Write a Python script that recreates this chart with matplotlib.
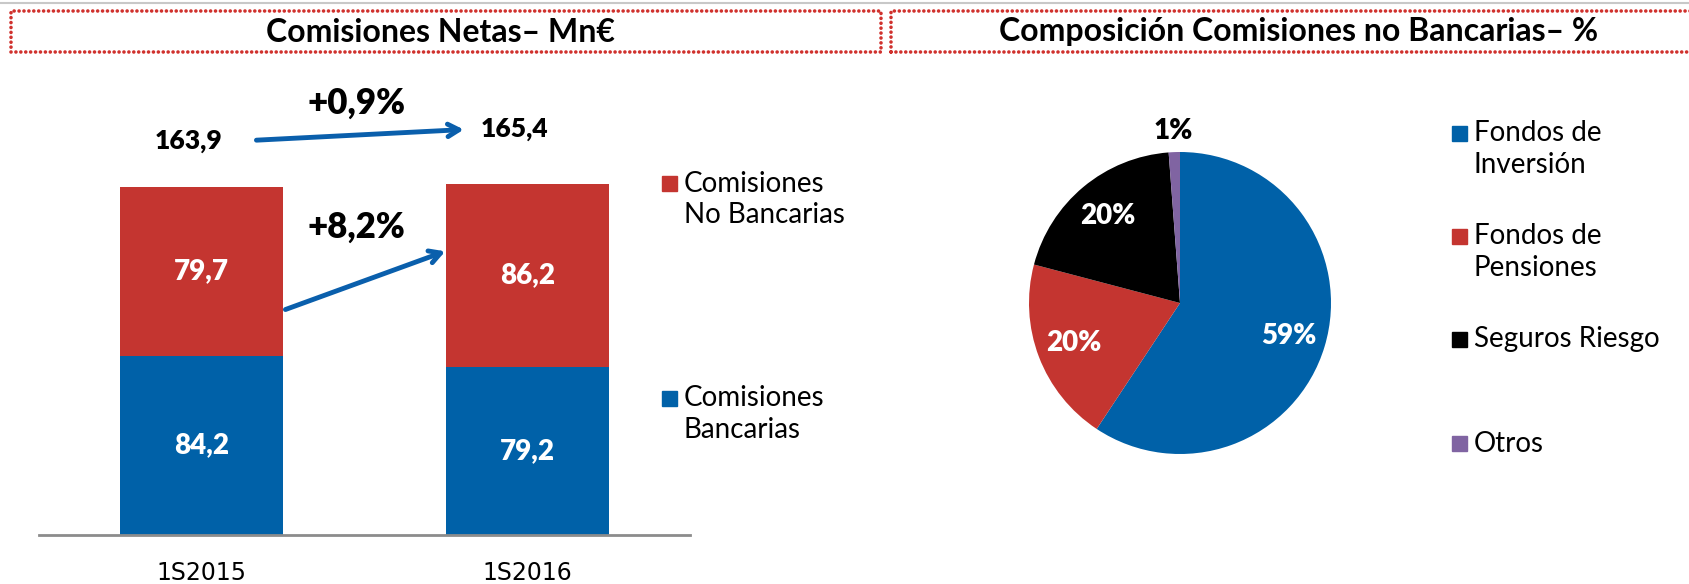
import numpy as np
import matplotlib.pyplot as plt
from matplotlib.patches import Rectangle
from matplotlib.lines import Line2D

# data
periods = ['1S2015', '1S2016']
bancarias = [84.2, 79.2]
no_bancarias = [79.7, 86.2]
totales = [163.9, 165.4]
var_total = '+0,9%'
var_no_banc = '+8,2%'

pie_labels = ['Fondos de\nInversión', 'Fondos de\nPensiones', 'Seguros Riesgo', 'Otros']
pie_shares = [59.3, 19.8, 19.7, 1.2]

BLUE = '#0061a8'
RED = '#c43530'
PURPLE = '#8064a2'
ARROW = '#0a5fac'
FONT = 'Lato'
NUMW = 'heavy'

W, H = 1690, 584
fig = plt.figure(figsize=(W / 100, H / 100), dpi=100)

def fx(px):
    return px / W

def fy(py):
    return 1 - py / H

def legend_item(xsq, yc, label, color):
    # square aligned with the first line, each line placed separately
    fig.add_artist(Rectangle((fx(xsq), fy(yc + 7.5)), fx(15), 15 / H,
                             transform=fig.transFigure, color=color))
    for k, line in enumerate(label.split('\n')):
        fig.text(fx(xsq + 22), fy(yc + 32 * k), line, ha='left', va='center',
                 fontsize=20, family=FONT)

# grey line on top
fig.add_artist(Line2D([0, 1], [fy(2.5), fy(2.5)], color='#c8c8c8', lw=1.5))

# title boxes (dotted red)
for x0, x1, title, xc in [(11, 881, 'Comisiones Netas– Mn€', 440),
                          (891, 1700, 'Composición Comisiones no Bancarias– %', 1299)]:
    rect = Rectangle((fx(x0), fy(52)), fx(x1) - fx(x0), fy(11) - fy(52),
                     transform=fig.transFigure, fill=False, edgecolor='#d0312d',
                     lw=2.6, linestyle=(0, (0.01, 1.35)), capstyle='round')
    fig.add_artist(rect)
    fig.text(fx(xc), fy(32), title, ha='center', va='center', fontsize=23,
             fontweight='bold', family=FONT)

# ---- stacked bars ----
ax = fig.add_axes([fx(39), fy(535), fx(690) - fx(39), fy(110) - fy(535)])
x = np.arange(len(periods))
ax.bar(x, bancarias, width=0.5, color=BLUE)
ax.bar(x, no_bancarias, width=0.5, bottom=bancarias, color=RED)
ax.set_xlim(-0.5, 1.5)
ax.set_ylim(0, 200)
for s in ['top', 'right', 'left']:
    ax.spines[s].set_visible(False)
ax.spines['bottom'].set_color('#8c8c8c')
ax.spines['bottom'].set_linewidth(2)
ax.set_yticks([])
ax.set_xticks(x)
ax.set_xticklabels(periods, fontsize=17, family='DejaVu Sans')
ax.tick_params(axis='x', length=0, pad=19)

for i in range(len(periods)):
    ax.text(x[i], bancarias[i] / 2, f'{bancarias[i]:.1f}'.replace('.', ','),
            ha='center', va='center', color='white', fontsize=20, fontweight=NUMW, family=FONT)
    ax.text(x[i], bancarias[i] + no_bancarias[i] / 2, f'{no_bancarias[i]:.1f}'.replace('.', ','),
            ha='center', va='center', color='white', fontsize=20, fontweight=NUMW, family=FONT)
ax.text(x[0] - 0.04, totales[0] + 21.5, f'{totales[0]:.1f}'.replace('.', ','),
        ha='center', va='center', fontsize=19, fontweight=NUMW, family=FONT)
ax.text(x[1] - 0.04, totales[1] + 25.5, f'{totales[1]:.1f}'.replace('.', ','),
        ha='center', va='center', fontsize=19, fontweight=NUMW, family=FONT)

ax.text(0.474, 203, var_total, ha='center', va='center', fontsize=25, fontweight=NUMW, family=FONT)
ax.text(0.474, 145, var_no_banc, ha='center', va='center', fontsize=25, fontweight=NUMW, family=FONT)

arrow_kw = dict(arrowstyle='->,head_length=0.8,head_width=0.45', color=ARROW, lw=3.5,
                shrinkA=0, shrinkB=0)
ax.annotate('', xy=(0.805, 190.8), xytext=(0.168, 185.8), arrowprops=arrow_kw, annotation_clip=False)
ax.annotate('', xy=(0.748, 133.5), xytext=(0.257, 106.1), arrowprops=arrow_kw, annotation_clip=False)

# left legend
legend_item(662, 183.5, 'Comisiones\nNo Bancarias', RED)
legend_item(662, 398, 'Comisiones\nBancarias', BLUE)

# ---- pie ----
pax = fig.add_axes([fx(1029), fy(454), fx(302), 302 / H])
colors = [BLUE, RED, 'black', PURPLE]
wedges, _ = pax.pie(pie_shares, colors=colors, startangle=90, counterclock=False,
                    radius=1, wedgeprops=dict(linewidth=0))
pax.set_xlim(-1, 1)
pax.set_ylim(-1, 1)
for w, share in zip(wedges, pie_shares):
    ang = np.deg2rad((w.theta1 + w.theta2) / 2)
    if share < 5:
        r, c = 1.14, 'black'
    else:
        r, c = 0.75, 'white'
    pax.text(r * np.cos(ang), r * np.sin(ang), f'{share:.0f}%', ha='center', va='center',
             color=c, fontsize=20, fontweight=NUMW, family=FONT, clip_on=False)

# right legend
for lab, col, yc in zip(pie_labels, colors, [133.5, 236.5, 339.5, 443.5]):
    legend_item(1452, yc, lab, col)

fig.savefig('out.png', dpi=100)
